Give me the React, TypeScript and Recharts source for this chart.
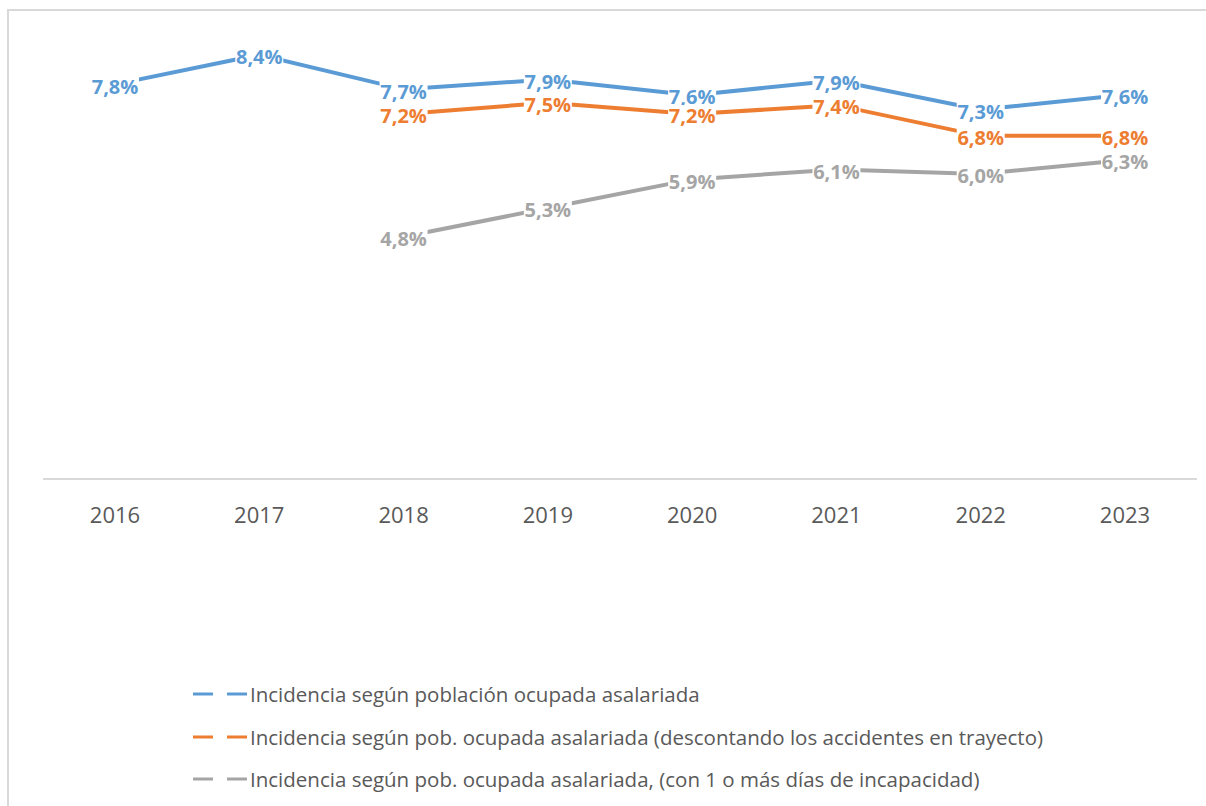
import { Legend, Line, LineChart, XAxis, YAxis } from "recharts";

const years = ["2016", "2017", "2018", "2019", "2020", "2021", "2022", "2023"];
const poblacion = [7.84, 8.44, 7.74, 7.94, 7.62, 7.92, 7.33, 7.63];
const sinTrayecto = [null, null, 7.24, 7.47, 7.24, 7.42, 6.8, 6.8];
const conIncapacidad = [null, null, 4.76, 5.34, 5.92, 6.12, 6.03, 6.31];

const seriesNames = [
  "Incidencia según población ocupada asalariada",
  "Incidencia según pob. ocupada asalariada (descontando los accidentes en trayecto)",
  "Incidencia según pob. ocupada asalariada, (con 1 o más días de incapacidad)",
];

const BLUE = "#5B9BD5";
const ORANGE = "#ED7D31";
const GRAY = "#A5A5A5";
const FONT = "'Open Sans', 'Noto Sans', sans-serif";

const data = years.map((year, i) => ({
  year,
  poblacion: poblacion[i],
  sinTrayecto: sinTrayecto[i],
  conIncapacidad: conIncapacidad[i],
}));

const fmt = (v: number) => `${v.toFixed(1).replace(".", ",")}%`;

/** Excel-style data label: sits on top of the point with a white box hiding the line. */
function makeLabel(color: string) {
  return function PointLabel(props: any) {
    const { x, y, value } = props;
    if (value == null || x == null || y == null) return null;
    return (
      <g>
        <rect x={x - 24} y={y - 9} width={48} height={22} fill="#ffffff" />
        <text
          x={x}
          y={y + 2}
          dy="0.36em"
          textAnchor="middle"
          fill={color}
          fontFamily={FONT}
          fontSize={20}
          fontWeight={700}
        >
          {fmt(value)}
        </text>
      </g>
    );
  };
}

function LegendContent({ payload }: { payload?: any[] }) {
  if (!payload) return null;
  const items = [...payload].sort(
    (a, b) => seriesNames.indexOf(a.value) - seriesNames.indexOf(b.value)
  );
  return (
    <div style={{ fontFamily: FONT, fontSize: 20.5, color: "#595959" }}>
      {items.map((entry) => (
        <div
          key={entry.value}
          style={{ display: "flex", alignItems: "center", height: 42.5 }}
        >
          <svg width={60} height={10} style={{ flex: "none" }}>
            <line x1={3} y1={5} x2={23} y2={5} stroke={entry.color} strokeWidth={3} />
            <line x1={37} y1={5} x2={57} y2={5} stroke={entry.color} strokeWidth={3} />
          </svg>
          <span style={{ whiteSpace: "nowrap" }}>{entry.value}</span>
        </div>
      ))}
    </div>
  );
}

export default function App() {
  return (
    <div
      style={{
        position: "absolute",
        left: 0,
        top: 0,
        width: 1206,
        height: 806,
        overflow: "hidden",
        background: "#ffffff",
      }}
    >
      <div
        style={{
          position: "absolute",
          left: 7,
          top: 9,
          width: 1300,
          height: 900,
          border: "2px solid #d9d9d9",
        }}
      />
      <div style={{ position: "absolute", left: 0, top: 0 }}>
        <LineChart
          width={1206}
          height={806}
          data={data}
          margin={{ top: 24.5, right: 9, bottom: 297, left: 43 }}
        >
          <XAxis
            dataKey="year"
            height={30}
            padding={{ left: 72, right: 72 }}
            tickLine={false}
            axisLine={{ stroke: "#d9d9d9", strokeWidth: 2 }}
            tickMargin={22}
            tick={{ fill: "#595959", fontSize: 22, fontFamily: FONT }}
          />
          <YAxis hide domain={[-0.135, 9.05]} />
          <Legend
            layout="vertical"
            verticalAlign="middle"
            align="center"
            content={<LegendContent />}
            wrapperStyle={{ left: 190, top: 673, width: 1000, height: 130 }}
          />
          <Line
            dataKey="poblacion"
            name={seriesNames[0]}
            stroke={BLUE}
            strokeWidth={4}
            dot={false}
            activeDot={false}
            label={makeLabel(BLUE)}
            isAnimationActive={false}
          />
          <Line
            dataKey="sinTrayecto"
            name={seriesNames[1]}
            stroke={ORANGE}
            strokeWidth={4}
            dot={false}
            activeDot={false}
            label={makeLabel(ORANGE)}
            isAnimationActive={false}
          />
          <Line
            dataKey="conIncapacidad"
            name={seriesNames[2]}
            stroke={GRAY}
            strokeWidth={4}
            dot={false}
            activeDot={false}
            label={makeLabel(GRAY)}
            isAnimationActive={false}
          />
        </LineChart>
      </div>
    </div>
  );
}
